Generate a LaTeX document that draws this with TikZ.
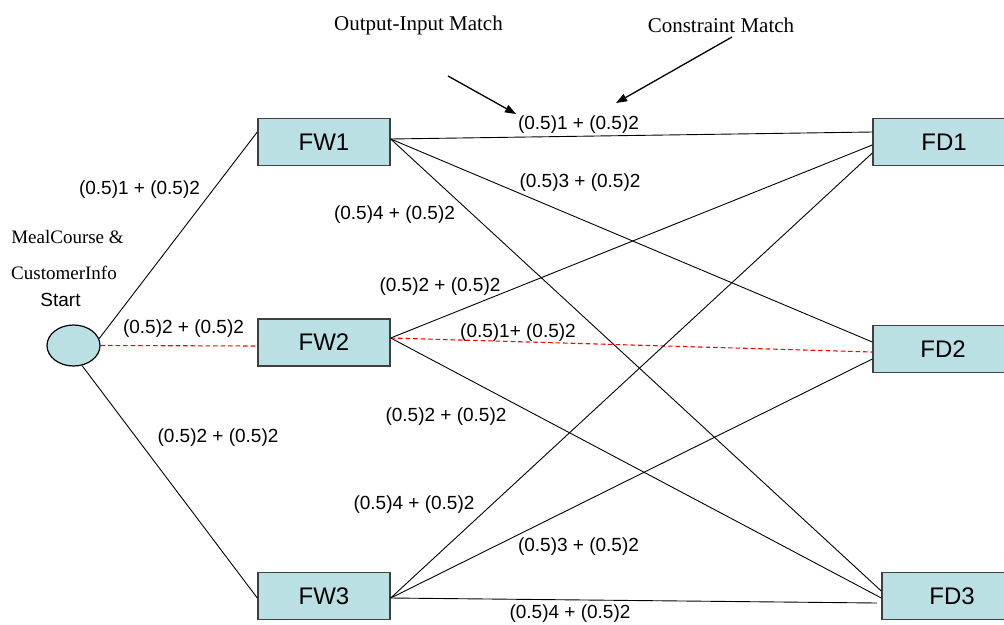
\documentclass[tikz,border=0pt]{standalone}
\usepackage{fontspec}
\setmainfont{Liberation Serif}
\newfontfamily\arialfont{Liberation Sans}
\usetikzlibrary{shapes.geometric,arrows.meta,calc}

\definecolor{boxfill}{RGB}{186,224,228}
\definecolor{boxline}{RGB}{64,64,64}

\tikzset{
  service/.style={draw=boxline, line width=1.4pt, fill=boxfill,
    minimum width=132pt, minimum height=47pt, inner sep=0pt,
    font=\arialfont\fontsize{24}{28}\selectfont},
  wideservice/.style={service, minimum width=142pt},
  startnode/.style={ellipse, draw=black, line width=1.2pt, fill=boxfill,
    minimum width=53pt, minimum height=41pt, inner sep=0pt},
  link/.style={draw=black, line width=0.9pt},
  chosen/.style={draw=red, line width=1.1pt, dash pattern=on 4.5pt off 3pt},
  cost/.style={font=\arialfont\fontsize{19}{23}\selectfont, inner sep=0pt},
  note/.style={font=\fontsize{21}{25}\selectfont, inner sep=0pt},
  info/.style={font=\fontsize{19}{23}\selectfont, inner sep=0pt},
  pointer/.style={draw=black, line width=1.3pt, -{Triangle[length=11pt,width=8pt]}}
}

\begin{document}
\begin{tikzpicture}[x=1pt, y=-1pt]
\useasboundingbox (0,0) rectangle (1004,624);
\clip (0,0) rectangle (1004,624);

% start node and its description
\node[startnode] (S) at (73.5,345.5) {};
\node[info] (mc) at (67.5,237) {MealCourse \&};
\node[info] (ci) at (64,273) {CustomerInfo};
\node[cost] (st) at (60.5,300) {Start};

% first stage services
\node[service] (FW1) at (324,142) {FW1};
\node[service] (FW2) at (324,342.5) {FW2};
\node[service] (FW3) at (324,596) {FW3};

% second stage services
\node[wideservice] (FD1) at (944,142) {FD1};
\node[service, minimum width=140pt] (FD2) at (943,349) {FD2};
\node[service, minimum width=140pt] (FD3) at (952,596) {FD3};

% start -> first stage
\draw[link] (S.15) -- ([yshift=10pt]FW1.west);
\draw[chosen] (S.east) -- ([yshift=-3.5pt]FW2.west);
\draw[link] (S.-67) -- ([yshift=-2pt]FW3.west);

% first stage -> second stage
\draw[link] ([yshift=3pt]FW1.east) -- ([yshift=10pt]FD1.west);
\draw[link] ([yshift=3pt]FW1.east) -- ([yshift=7pt]FD2.west);
\draw[link] ([yshift=3pt]FW1.east) -- ([yshift=5pt]FD3.west);

\draw[link] ([yshift=4.5pt]FW2.east) -- ([yshift=-3pt]FD1.west);
\draw[chosen] ([yshift=4.5pt]FW2.east) -- ([yshift=-3pt]FD2.west);
\draw[link] ([yshift=4.5pt]FW2.east) -- ([yshift=-2pt]FD3.west);

\coordinate (e33) at (877,603);
\draw[link] ([yshift=-2pt]FW3.east) -- ([yshift=-11pt]FD1.west);
\draw[link] ([yshift=-2pt]FW3.east) -- ([yshift=-10pt]FD2.west);
\draw[link] ([yshift=-2pt]FW3.east) -- (e33);

% cost labels
\node[cost] (c01) at (139.5,190) {(0.5)1 + (0.5)2};
\node[cost] (c02) at (183.5,329) {(0.5)2 + (0.5)2};
\node[cost] (c03) at (218,438) {(0.5)2 + (0.5)2};

\node[cost] (c11) at (578.5,125) {(0.5)1 + (0.5)2};
\node[cost] (c12) at (580,183) {(0.5)3 + (0.5)2};
\node[cost] (c13) at (394.5,215) {(0.5)4 + (0.5)2};

\node[cost] (c21) at (440,287) {(0.5)2 + (0.5)2};
\node[cost] (c22) at (518,333) {(0.5)1+ (0.5)2};
\node[cost] (c23) at (446,417) {(0.5)2 + (0.5)2};

\node[cost] (c31) at (414,505) {(0.5)4 + (0.5)2};
\node[cost] (c32) at (578.5,547) {(0.5)3 + (0.5)2};
\node[cost] (c33) at (570,613.5) {(0.5)4 + (0.5)2};

% annotations
\node[note] (oim) at (418.5,25) {Output-Input Match};
\node[note] (cm) at (721,25) {Constraint Match};
\coordinate (oimtail) at (448,76);
\coordinate (oimhead) at (516,114);
\coordinate (cmtail) at (732,37);
\coordinate (cmhead) at (616,103);
\draw[pointer] (oimtail) -- (oimhead);
\draw[pointer] (cmtail) -- (cmhead);
\end{tikzpicture}
\end{document}
